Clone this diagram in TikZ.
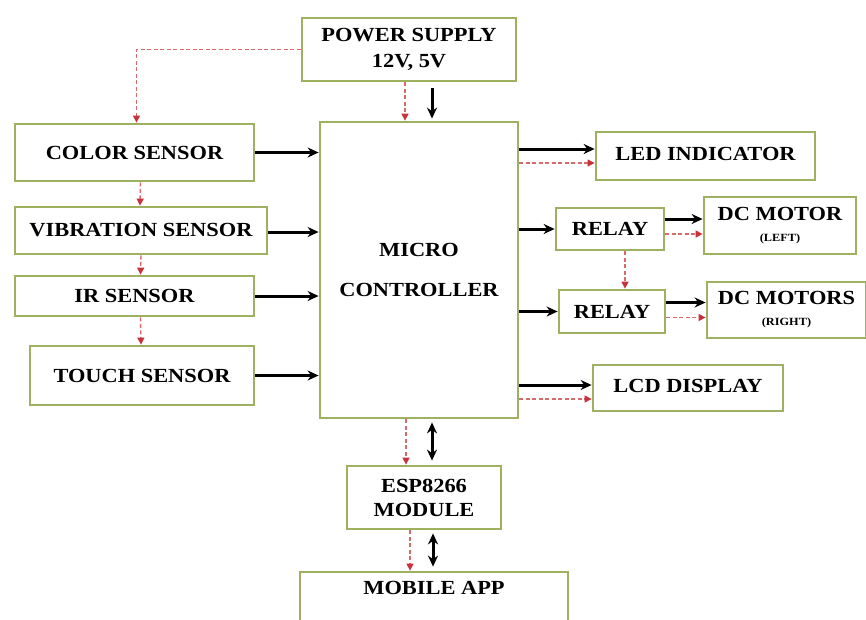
\documentclass[tikz,border=0pt]{standalone}
\usepackage{fontspec}
\setmainfont[FakeStretch=1.12]{Liberation Serif}
\usetikzlibrary{arrows.meta,calc}
\definecolor{boxgreen}{HTML}{9DB160}
\definecolor{dashred}{HTML}{D86A6A}
\definecolor{headred}{HTML}{C8323A}
\newcommand\smtxt{\fontsize{11}{12}\selectfont}
\tikzset{
  box/.style={draw=boxgreen, line width=2.8pt, fill=white, align=center, inner sep=0pt,
    font=\fontsize{20}{24}\selectfont\bfseries},
  blk/.style={line width=3pt, -{Stealth[length=11pt,width=10pt]}},
  dbl/.style={line width=3pt, {Stealth[length=11pt,width=10pt]}-{Stealth[length=11pt,width=10pt]}},
  rd/.style={draw=dashred, line width=1.4pt, dash pattern=on 4pt off 2.5pt,
    -{Triangle[length=7pt,width=7pt,fill=headred,color=headred]}}
}
\begin{document}
\begin{tikzpicture}[x=1pt,y=-1pt]
\useasboundingbox[fill=white] (0,0) rectangle (866,619);
\node[box, minimum width=214pt, minimum height=63pt] (ps) at (409,49.5) {POWER SUPPLY\\[2pt]12V, 5V};
\node[box, minimum width=198pt, minimum height=296pt] (mc) at (419,270) {MICRO\\[16pt]CONTROLLER};
\node[box, minimum width=239pt, minimum height=57pt] (color) at (134.5,152.5) {COLOR SENSOR};
\node[box, minimum width=252pt, minimum height=47pt] (vib) at (141,230.5) {VIBRATION SENSOR};
\node[box, minimum width=239pt, minimum height=40pt] (ir) at (134.5,296) {IR SENSOR};
\node[box, minimum width=224pt, minimum height=59pt] (touch) at (142,375.5) {TOUCH SENSOR};
\node[box, minimum width=219pt, minimum height=48pt] (led) at (705.5,156) {\raisebox{4pt}{LED INDICATOR}};
\node[box, minimum width=108pt, minimum height=42pt] (r1) at (610,229) {RELAY};
\node[box, minimum width=152pt, minimum height=57pt] (dcl) at (780,225.5) {DC MOTOR\\[-3pt]{\smtxt (LEFT)}};
\node[box, minimum width=106pt, minimum height=43pt] (r2) at (612,311.5) {RELAY};
\node[box, minimum width=159pt, minimum height=56pt] (dcr) at (786.5,310) {DC MOTORS\\[-3pt]{\smtxt (RIGHT)}};
\node[box, minimum width=190pt, minimum height=46pt] (lcd) at (688,388) {\raisebox{4pt}{LCD DISPLAY}};
\node[box, minimum width=154pt, minimum height=63pt] (esp) at (424,497.5) {ESP8266\\MODULE};
\node[box, minimum width=268pt, minimum height=52pt, text depth=20pt] (app) at (434,598) {MOBILE APP};

% power supply
\draw[rd] (ps.west) -| ([xshift=2pt]color.north);
\draw[rd] ([xshift=-4pt]ps.south) -- ([xshift=-14pt]mc.north);
\draw[blk] ([xshift=23pt,yshift=-6pt]ps.south) -- ([xshift=13pt,yshift=2pt]mc.north);

% sensors chain
\draw[rd] ([xshift=6pt]color.south) -- ([xshift=-1pt]vib.north);
\draw[rd] (vib.south) -- ([xshift=6pt]ir.north);
\draw[rd] ([xshift=6pt]ir.south) -- ([xshift=-1pt]touch.north);

% sensors to MC
\draw[blk] (color.east) -- (mc.west |- color.east);
\draw[blk] ([yshift=-1.5pt]vib.east) -- (mc.west |- {$(vib.east)+(0,1.5)$});
\draw[blk] (ir.east) -- (mc.west |- ir.east);
\draw[blk] (touch.east) -- (mc.west |- touch.east);

% outputs
\draw[blk] (mc.east |- {$(led.west)+(0,-7)$}) -- ($(led.west)+(0,-7)$);
\draw[rd] (mc.east |- {$(led.west)+(0,7)$}) -- ($(led.west)+(0,7)$);
\draw[blk] (mc.east |- r1.west) -- (r1.west);
\draw[blk] (mc.east |- r2.west) -- (r2.west);
\draw[blk] ($(r1.east)+(0,-10)$) -- (dcl.west |- {$(r1.east)+(0,-10)$});
\draw[rd] ($(r1.east)+(0,5)$) -- (dcl.west |- {$(r1.east)+(0,5)$});
\draw[blk] ($(r2.east)+(0,-9)$) -- (dcr.west |- {$(r2.east)+(0,-9)$});
\draw[rd] ($(r2.east)+(0,6)$) -- (dcr.west |- {$(r2.east)+(0,6)$});
\draw[rd] ([xshift=15pt]r1.south) -- (r2.north -| {$(r1.south)+(15,0)$});
\draw[blk] (mc.east |- {$(lcd.west)+(0,-3)$}) -- ($(lcd.west)+(0,-3)$);
\draw[rd] (mc.east |- {$(lcd.west)+(0,11)$}) -- ($(lcd.west)+(0,11)$);

% bottom
\draw[rd] ([xshift=-13pt]mc.south) -- ([xshift=-13pt]mc.south |- esp.north);
\draw[dbl] ([xshift=13pt,yshift=-3pt]mc.south) -- ([xshift=13pt,yshift=4pt]mc.south |- esp.north);
\draw[rd] ([xshift=-14pt]esp.south) -- ([xshift=-14pt]esp.south |- app.north);
\draw[dbl] ([xshift=9pt,yshift=-3pt]esp.south) -- ([xshift=9pt,yshift=4pt]esp.south |- app.north);
\end{tikzpicture}
\end{document}
